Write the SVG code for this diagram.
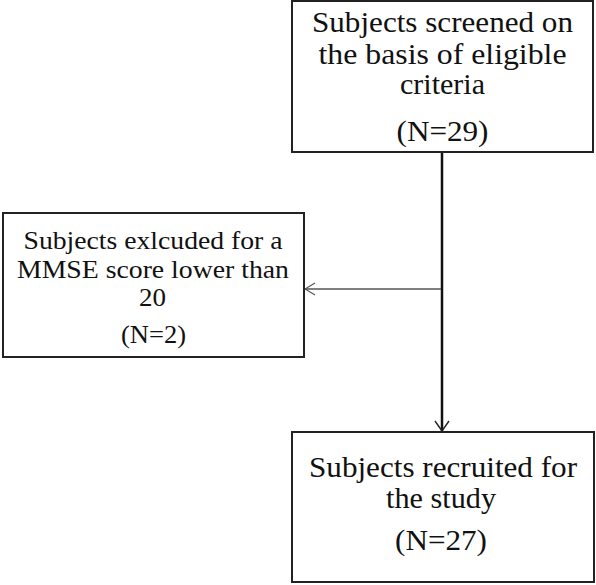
<svg xmlns="http://www.w3.org/2000/svg" width="596" height="585" viewBox="0 0 596 585">
<style>
rect.box{fill:#fff;stroke:#222;stroke-width:2}
text{font-family:"Liberation Serif","Times New Roman",serif;fill:#111;text-anchor:middle}
.big{font-size:28.5px}
.small{font-size:26px}
</style>
<defs>
<marker id="ah" viewBox="0 0 12 16" refX="11" refY="8" markerWidth="12" markerHeight="16" markerUnits="userSpaceOnUse" orient="auto">
<path d="M1,1 L11,8 L1,15" fill="none" stroke="#222" stroke-width="1.4"/>
</marker>
<marker id="ah2" viewBox="0 0 12 14" refX="11" refY="7" markerWidth="12" markerHeight="14" markerUnits="userSpaceOnUse" orient="auto">
<path d="M1,1 L11,7 L1,13" fill="none" stroke="#555" stroke-width="1.2"/>
</marker>
</defs>
<rect width="596" height="585" fill="#fff"/>
<g id="connectors">
<line x1="442" y1="152" x2="442" y2="431" stroke="#111" stroke-width="2.5" marker-end="url(#ah)"/>
<line x1="441" y1="289" x2="305" y2="289" stroke="#555" stroke-width="1.3" marker-end="url(#ah2)"/>
</g>
<g id="screened">
<rect class="box" x="292" y="1" width="301" height="151"/>
<text class="big" x="442.5" y="32" textLength="261" lengthAdjust="spacingAndGlyphs">Subjects screened on</text>
<text class="big" x="442.5" y="64" textLength="248" lengthAdjust="spacingAndGlyphs">the basis of eligible</text>
<text class="big" x="442.5" y="94" textLength="85" lengthAdjust="spacingAndGlyphs">criteria</text>
<text class="big" x="442.5" y="141" textLength="92" lengthAdjust="spacingAndGlyphs">(N=29)</text>
</g>
<g id="excluded">
<rect class="box" x="3" y="213" width="301" height="144"/>
<text class="small" x="153" y="249" textLength="259" lengthAdjust="spacingAndGlyphs">Subjects exlcuded for a</text>
<text class="small" x="153" y="277.5" textLength="272" lengthAdjust="spacingAndGlyphs">MMSE score lower than</text>
<text class="small" x="152.5" y="306" textLength="27" lengthAdjust="spacingAndGlyphs">20</text>
<text class="small" x="153.5" y="343" textLength="65" lengthAdjust="spacingAndGlyphs">(N=2)</text>
</g>
<g id="recruited">
<rect class="box" x="292" y="432" width="302" height="150"/>
<text class="big" x="443" y="477" textLength="268" lengthAdjust="spacingAndGlyphs">Subjects recruited for</text>
<text class="big" x="441" y="508" textLength="110" lengthAdjust="spacingAndGlyphs">the study</text>
<text class="big" x="441" y="550" textLength="92" lengthAdjust="spacingAndGlyphs">(N=27)</text>
</g>
</svg>
